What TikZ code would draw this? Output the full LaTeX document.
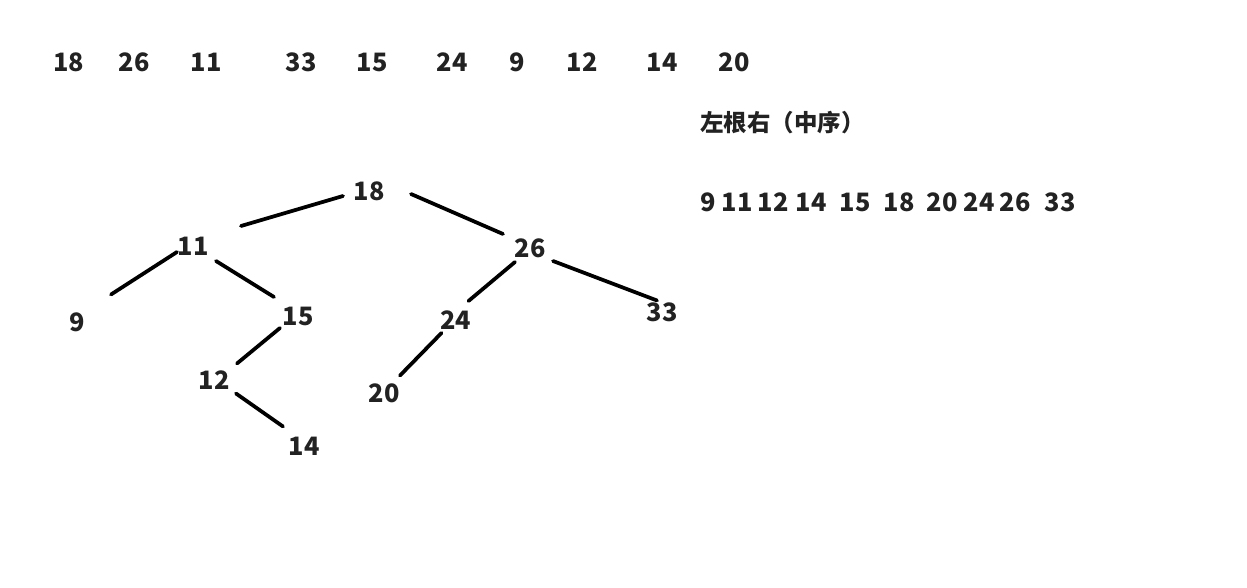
\documentclass[tikz,border=0pt]{standalone}
\usepackage{fontspec}
\setmainfont{Noto Sans CJK SC}
\begin{document}
\begin{tikzpicture}[x=0.75pt,y=-0.75pt,
  num/.style={inner sep=0pt,text=ink,font=\fontsize{19}{22}\selectfont\bfseries},
  lbl/.style={inner sep=0pt,text=ink,anchor=west,font=\fontsize{17.6}{21}\selectfont\bfseries},
  edge/.style={draw=black,line width=2.8pt,line cap=round}]
\definecolor{ink}{HTML}{222222}
\useasboundingbox[fill=white] (0,0) rectangle (1247,588);
% top sequence
\node[num] (s1) at (69,62) {18};
\node[num] (s2) at (134,62) {26};
\node[num] (s3) at (206,62) {11};
\node[num] (s4) at (301,62) {33};
\node[num] (s5) at (372,62) {15};
\node[num] (s6) at (452,62) {24};
\node[num] (s7) at (517,62) {9};
\node[num] (s8) at (582,62) {12};
\node[num] (s9) at (662,62) {14};
\node[num] (s10) at (734,62) {20};
% label
\node[lbl] (title) at (700,123) {左根右（中序）};
% inorder
\node[num] (o1) at (708,202) {9};
\node[num] (o2) at (737,202) {11};
\node[num] (o3) at (773,202) {12};
\node[num] (o4) at (811,202) {14};
\node[num] (o5) at (855,202) {15};
\node[num] (o6) at (899,202) {18};
\node[num] (o7) at (942,202) {20};
\node[num] (o8) at (979,202) {24};
\node[num] (o9) at (1015,202) {26};
\node[num] (o10) at (1060,202) {33};
% tree
\node[num] (n18) at (369,191) {18};
\node[num] (n11) at (193,246) {11};
\node[num] (n26) at (530,248) {26};
\node[num] (n9) at (77,322.5) {9};
\node[num] (n15) at (298,316) {15};
\node[num] (n24) at (455.5,320) {24};
\node[num] (n33) at (662,312.5) {33};
\node[num] (n12) at (214,380.5) {12};
\node[num] (n20) at (384,393.5) {20};
\node[num] (n14) at (304,446.5) {14};
\draw[edge] ([shift={(-26,5)}]n18.center) -- ([shift={(48,-20)}]n11.center);
\draw[edge] ([shift={(42,3)}]n18.center) -- ([shift={(-27,-14)}]n26.center);
\draw[edge] ([shift={(-16,6)}]n11.center) -- ([shift={(34,-28)}]n9.center);
\draw[edge] ([shift={(23,15)}]n11.center) -- ([shift={(-24,-19)}]n15.center);
\draw[edge] ([shift={(-18,12)}]n15.center) -- ([shift={(23,-17)}]n12.center);
\draw[edge] ([shift={(22,13)}]n12.center) -- ([shift={(-21,-20)}]n14.center);
\draw[edge] ([shift={(-15,14)}]n26.center) -- ([shift={(13,-19)}]n24.center);
\draw[edge] ([shift={(23,13)}]n26.center) -- ([shift={(-5,-12)}]n33.center);
\draw[edge] ([shift={(-14,13)}]n24.center) -- ([shift={(16,-18)}]n20.center);
\end{tikzpicture}
\end{document}
